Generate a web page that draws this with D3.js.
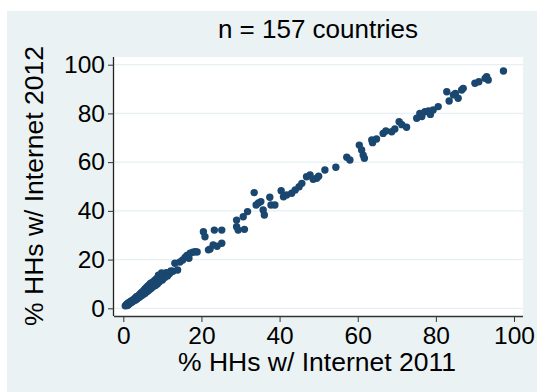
<!DOCTYPE html>
<html>
<head>
<meta charset="utf-8">
<script src="https://cdn.jsdelivr.net/npm/d3@7"></script>
<style>
  html, body { margin: 0; padding: 0; background: #ffffff; }
  svg { display: block; }
  text { font-family: "Liberation Sans", Arial, Helvetica, sans-serif; fill: #000; }
</style>
</head>
<body>
<svg id="chart" width="537" height="392"></svg>
<script>
// Share of households with Internet access, by country (2011 vs 2012)
const internet2011 = [
  0.5, 0.7, 0.8, 0.9, 1.0, 1.0, 1.1, 1.2, 1.3, 1.4, 1.5, 1.6, 1.8, 1.9, 2.0, 2.1, 2.2, 2.3, 2.4, 2.5,
  2.7, 2.8, 3.0, 3.1, 3.3, 3.4, 3.5, 3.6, 3.8, 4.0, 4.1, 4.3, 4.5, 4.6, 4.8, 5.0, 5.1, 5.3, 5.4, 5.5,
  5.6, 5.8, 6.0, 6.1, 6.3, 6.5, 6.7, 6.9, 7.0, 7.2, 7.4, 7.5, 7.7, 8.0, 8.2, 8.5, 8.7, 8.8, 9.0, 9.2,
  9.5, 9.8, 10.0, 10.3, 10.6, 11.0, 11.3, 11.8, 12.0, 12.2, 12.7, 13.2, 13.9, 14.5, 15.2, 15.8, 16.3, 16.8, 17.1, 17.8,
  18.4, 18.9, 20.5, 20.9, 21.8, 22.2, 23.0, 23.3, 24.0, 25.2, 25.2, 29.0, 29.0, 29.4, 30.7, 31.0, 31.8, 33.5, 34.0, 34.6,
  35.2, 35.8, 36.1, 37.5, 37.8, 38.8, 40.4, 41.0, 41.8, 43.1, 44.0, 45.0, 45.7, 46.9, 47.8, 48.6, 49.5, 50.0, 51.6, 54.4,
  57.2, 58.0, 60.4, 61.0, 61.4, 61.7, 63.6, 63.8, 64.8, 66.5, 67.2, 68.7, 69.5, 70.6, 71.3, 72.5, 75.1, 75.9, 76.4, 77.2,
  78.1, 78.6, 79.3, 80.6, 82.8, 83.4, 84.5, 85.0, 85.7, 86.6, 87.0, 90.0, 91.0, 92.6, 93.0, 93.4, 97.3
];
const internet2012 = [
  1.0, 1.2, 1.5, 1.3, 1.8, 1.1, 1.4, 2.0, 1.6, 2.3, 1.9, 2.5, 2.2, 2.8, 2.4, 3.0, 2.9, 2.7, 3.3, 3.0,
  3.6, 3.2, 4.1, 3.4, 4.5, 4.8, 3.8, 4.9, 4.3, 5.4, 4.5, 5.9, 5.0, 6.4, 5.4, 6.9, 5.8, 7.4, 6.4, 6.1,
  8.0, 6.6, 8.7, 6.9, 9.2, 7.4, 9.7, 7.9, 10.3, 8.3, 9.9, 10.7, 8.9, 11.4, 9.4, 12.2, 10.0, 11.9, 13.6, 10.8,
  12.6, 14.5, 11.6, 13.9, 12.6, 14.6, 13.3, 14.2, 14.8, 15.3, 15.2, 18.5, 15.7, 19.0, 19.8, 20.9, 21.7, 20.5, 22.6, 23.0,
  23.2, 23.1, 31.4, 29.4, 24.0, 24.3, 26.0, 32.1, 25.5, 32.1, 26.7, 36.2, 33.5, 32.1, 37.6, 32.4, 39.7, 47.5, 42.4, 43.2,
  43.8, 40.4, 38.3, 45.6, 42.4, 42.4, 48.3, 45.8, 46.5, 47.2, 48.6, 49.9, 51.3, 54.0, 54.7, 53.0, 53.4, 54.2, 56.8, 57.9,
  62.0, 60.9, 67.0, 65.0, 62.9, 61.6, 69.1, 68.0, 69.5, 71.8, 72.8, 72.5, 73.6, 76.6, 75.4, 74.3, 78.0, 80.0, 78.7, 80.7,
  81.0, 79.6, 81.4, 82.8, 88.9, 85.1, 87.6, 88.2, 86.2, 89.6, 90.3, 92.4, 93.0, 94.4, 95.1, 93.7, 97.4
];
const tickValues = [0, 20, 40, 60, 80, 100];
const titleText = "n = 157 countries";
const xTitle = "% HHs w/ Internet 2011";
const yTitle = "% HHs w/ Internet 2012";

const points = internet2011.map((v, i) => ({ x: v, y: internet2012[i] }));

const svg = d3.select("#chart");
const W = 537, H = 392;

// graph region and plot region
const plot = { left: 114, top: 57, right: 523, bottom: 316 };

svg.append("rect")
  .attr("x", 7).attr("y", 11)
  .attr("width", W - 7).attr("height", H - 11)
  .attr("fill", "#eaf2f3");

svg.append("rect")
  .attr("x", plot.left).attr("y", plot.top)
  .attr("width", plot.right - plot.left).attr("height", plot.bottom - plot.top)
  .attr("fill", "#ffffff");

const x = d3.scaleLinear().domain([0, 100]).range([123.3, 514]);
const y = d3.scaleLinear().domain([0, 100]).range([308.3, 64.7]);

// horizontal grid lines
svg.append("g")
  .selectAll("line")
  .data(tickValues)
  .join("line")
  .attr("x1", plot.left).attr("x2", plot.right)
  .attr("y1", d => y(d)).attr("y2", d => y(d))
  .attr("stroke", "#e6eff1")
  .attr("stroke-width", 1.3);

// points
svg.append("g")
  .selectAll("circle")
  .data(points)
  .join("circle")
  .attr("cx", d => x(d.x))
  .attr("cy", d => y(d.y))
  .attr("r", 3.7)
  .attr("fill", "#1a476f");

// x axis
const xAxis = d3.axisBottom(x).tickValues(tickValues).tickSize(6).tickPadding(5).tickFormat(d3.format("d"));
const gx = svg.append("g").attr("transform", `translate(0,${plot.bottom})`).call(xAxis);
gx.select(".domain").attr("d", `M${plot.left},0.5H${plot.right}`).attr("stroke", "#333").attr("stroke-width", 1.3);
gx.selectAll(".tick line").attr("stroke", "#333");
gx.selectAll(".tick text")
  .attr("font-size", 24.5)
  .attr("font-family", "Liberation Sans, Arial, sans-serif")
  .attr("fill", "#000");

// y axis
const yAxis = d3.axisLeft(y).tickValues(tickValues).tickSize(6).tickPadding(3).tickFormat(d3.format("d"));
const gy = svg.append("g").attr("transform", `translate(${plot.left},0)`).call(yAxis);
gy.select(".domain").attr("d", `M-0.5,${plot.top}V${plot.bottom}`).attr("stroke", "#222").attr("stroke-width", 1.3);
gy.selectAll(".tick line").attr("stroke", "#333");
gy.selectAll(".tick text")
  .attr("font-size", 24.5)
  .attr("font-family", "Liberation Sans, Arial, sans-serif")
  .attr("fill", "#000");

// titles
svg.append("text")
  .attr("x", 318).attr("y", 38)
  .attr("text-anchor", "middle")
  .attr("font-size", 26)
  .text(titleText);

svg.append("text")
  .attr("x", 317).attr("y", 371)
  .attr("text-anchor", "middle")
  .attr("font-size", 26.5)
  .text(xTitle);

svg.append("text")
  .attr("transform", "translate(43,186) rotate(-90)")
  .attr("text-anchor", "middle")
  .attr("font-size", 26.5)
  .text(yTitle);
</script>
</body>
</html>
